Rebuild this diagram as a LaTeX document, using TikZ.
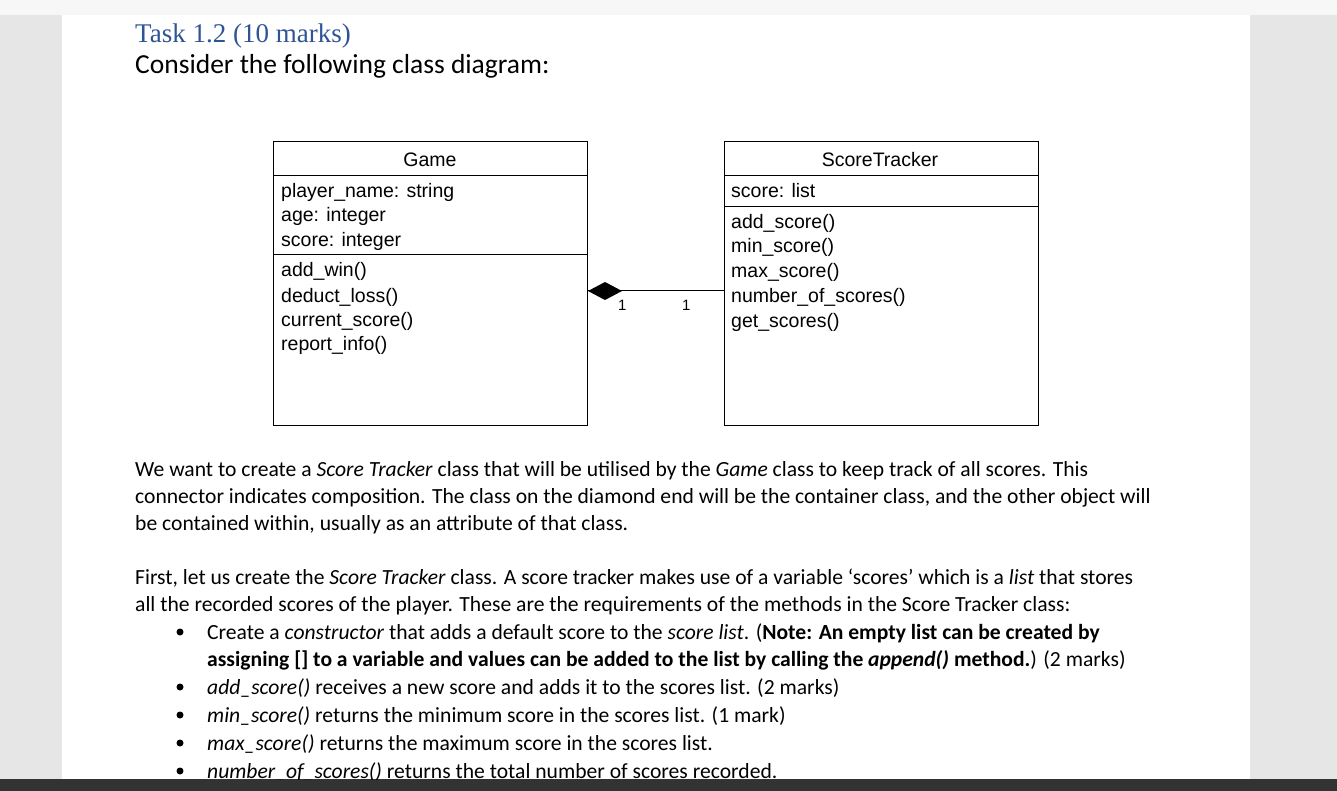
\documentclass[tikz,border=0pt]{standalone}
\usepackage{fontspec}
\setmainfont{Carlito}
\newfontfamily\umlfont{Liberation Sans}
\newfontfamily\titlefont{Liberation Serif}
\definecolor{pagegray}{HTML}{E6E6E6}
\definecolor{titleblue}{HTML}{2F5496}
\begin{document}
\begin{tikzpicture}[x=1pt,y=-1pt,
  body/.style={anchor=base west,inner sep=0pt,font=\fontsize{21.6}{22}\selectfont},
  uml/.style={anchor=base west,inner sep=0pt,font=\umlfont\fontsize{19.5}{20}\selectfont},
  umlbox/.style={draw,line width=1pt},
  bul/.style={circle,fill=black,inner sep=0pt,minimum size=7pt}]
\useasboundingbox (0,0) rectangle (1337,791);
\fill[pagegray] (0,0) rectangle (1337,791);
\fill[white!97!black] (0,0) rectangle (1337,15);
\fill[white] (62,15) rectangle (1250,779);
\fill[black!80] (0,779) rectangle (1337,791);
\begin{scope}
\clip (62,15) rectangle (1250,779);
\node[anchor=base west,inner sep=0pt,text=titleblue,font=\titlefont\fontsize{27}{28}\selectfont] (t) at (135,43) {Task 1.2 (10 marks)};
\node[anchor=base west,inner sep=0pt,font=\fontsize{27.5}{28}\selectfont] (c) at (135,74) {Consider the following class diagram:};
% Game
\draw[umlbox] (273,142) rectangle (587,425);
\draw[umlbox] (273,176) -- (587,176);
\draw[umlbox] (273,255) -- (587,255);
\node[inner sep=0pt,font=\umlfont\fontsize{19.5}{20}\selectfont] (g) at (430,160) {Game};
\node[uml] (g1) at (281,198) {player\_name: string};
\node[uml] (g2) at (281,222) {age: integer};
\node[uml] (g3) at (281,247) {score: integer};
\node[uml] (g4) at (281,277) {add\_win()};
\node[uml] (g5) at (281,302) {deduct\_loss()};
\node[uml] (g6) at (281,326) {current\_score()};
\node[uml] (g7) at (281,350) {report\_info()};
% ScoreTracker
\draw[umlbox] (724,142) rectangle (1038,425);
\draw[umlbox] (724,176) -- (1038,176);
\draw[umlbox] (724,207) -- (1038,207);
\node[inner sep=0pt,font=\umlfont\fontsize{19.5}{20}\selectfont] (s) at (880,160) {ScoreTracker};
\node[uml] (s1) at (731,198) {score: list};
\node[uml] (s2) at (731,229) {add\_score()};
\node[uml] (s3) at (731,253) {min\_score()};
\node[uml] (s4) at (731,278) {max\_score()};
\node[uml] (s5) at (731,302) {number\_of\_scores()};
\node[uml] (s6) at (731,327) {get\_scores()};
% connector
\coordinate (ga) at (588,291);
\coordinate (sa) at (724,291);
\draw[line width=1pt] (ga) -- (sa);
\fill (588,291) -- (605,282) -- (622,291) -- (605,300) -- cycle;
\node[uml,font=\umlfont\fontsize{15}{16}\selectfont] (m1) at (618,310) {1};
\node[uml,font=\umlfont\fontsize{15}{16}\selectfont] (m2) at (682,310) {1};
% text
\node[body] (p1) at (135,476) {We want to create a \emph{Score Tracker} class that will be utilised by the \emph{Game} class to keep track of all scores. This};
\node[body] (p2) at (135,503) {connector indicates composition. The class on the diamond end will be the container class, and the other object will};
\node[body] (p3) at (135,530) {be contained within, usually as an attribute of that class.};
\node[body] (q1) at (135,584) {First, let us create the \emph{Score Tracker} class. A score tracker makes use of a variable ‘scores’ which is a \emph{list} that stores};
\node[body] (q2) at (135,611) {all the recorded scores of the player. These are the requirements of the methods in the Score Tracker class:};
\node[body] (b1) at (207,639) {Create a \emph{constructor} that adds a default score to the \emph{score list}. (\textbf{Note: An empty list can be created by}};
\node[body] (b1b) at (207,666) {\textbf{assigning [] to a variable and values can be added to the list by calling the \emph{append()} method.}) (2 marks)};
\node[body] (b2) at (207,694) {\emph{add\_score()} receives a new score and adds it to the scores list. (2 marks)};
\node[body] (b3) at (207,722) {\emph{min\_score()} returns the minimum score in the scores list. (1 mark)};
\node[body] (b4) at (207,750) {\emph{max\_score()} returns the maximum score in the scores list.};
\node[body] (b5) at (207,778) {\emph{number\_of\_scores()} returns the total number of scores recorded.};
\foreach \yy/\nm in {632/d1,687/d2,715/d3,743/d4,771/d5} \node[bul] (\nm) at (180,\yy) {};
\end{scope}
\end{tikzpicture}
\end{document}
